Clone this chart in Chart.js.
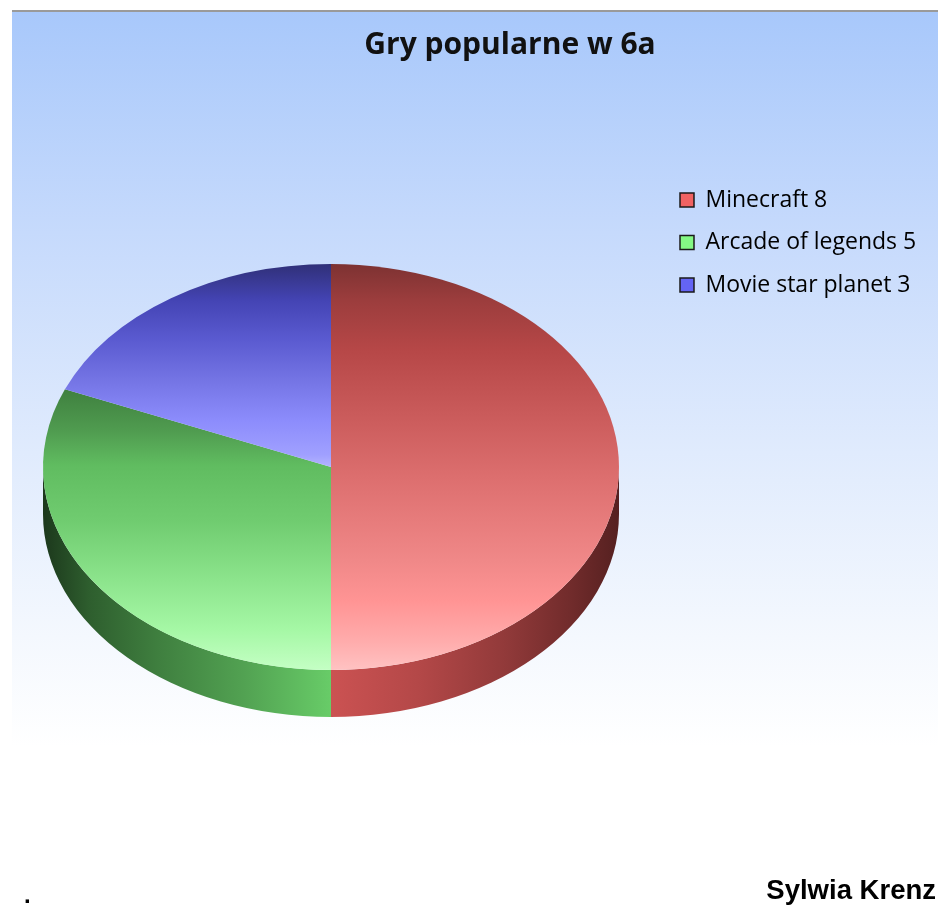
<!DOCTYPE html>
<html>
<head>
<meta charset="utf-8">
<script src="https://cdn.jsdelivr.net/npm/chart.js@4/dist/chart.umd.min.js"></script>
<style>
  body { margin: 0; background: #fff; width: 938px; height: 920px; position: relative; overflow: hidden; }
  .panel {
    position: absolute; left: 12px; top: 10px; width: 926px; height: 735px;
    border-top: 2px solid #9a9a9a;
    background: linear-gradient(to bottom, #a8c8fb 0%, #c6dafc 30%, #e0ebfd 60%, #f4f8fe 85%, #ffffff 100%);
  }
  #chart { position: absolute; left: 0; top: 0; }
  .dot { position: absolute; left: 24px; top: 883px; font: bold 24px 'Liberation Sans', Arial, sans-serif; line-height: 24px; color: #000; }
  .sig { position: absolute; right: 2px; top: 876px; font: bold 27.5px 'Liberation Sans', Arial, sans-serif; line-height: 28px; color: #000; }
</style>
</head>
<body>
<div class="panel"></div>
<canvas id="chart" width="938" height="920"></canvas>
<div class="dot">.</div>
<div class="sig">Sylwia Krenz</div>
<script>
// data
const games = ['Minecraft', 'Arcade of legends', 'Movie star planet'];
const votes = [8, 5, 3];
const chartTitle = 'Gry popularne w 6a';

// look
const RADIUS = 288;
const SQUASH = 203 / 288;
const DEPTH = 47;
const TITLE_SHIFT = 48;
const legendFill = ['#f06262', '#84f884', '#6464f4'];
const topStops = [
  [[0, '#7d3232'], [0.09, '#9c3d3d'], [0.21, '#b64747'], [0.38, '#cb5c5c'], [0.53, '#dd6f6f'], [0.73, '#f08888'], [0.83, '#ff9494'], [0.93, '#ffacac'], [1, '#ffc2c2']],
  [[0, '#3f803f'], [0.15, '#509c50'], [0.27, '#60bc60'], [0.47, '#70cc70'], [0.68, '#8ce48c'], [0.86, '#a6f8a6'], [1, '#c4ffc4']],
  [[0, '#303078'], [0.18, '#4444b4'], [0.37, '#5a5ad0'], [0.57, '#7474e4'], [0.77, '#8c8cfc'], [0.94, '#a0a0ff'], [1, '#b4b4ff']]
];
const sideStops = [
  [[0.5, '#cb5252'], [0.65, '#b44848'], [0.8, '#923a3a'], [0.92, '#702b2b'], [1, '#552020']],
  [[0, '#1c381c'], [0.08, '#2e5e2e'], [0.2, '#3f7f3f'], [0.35, '#52a252'], [0.5, '#68cc68']],
  [[0, '#303078'], [1, '#303078']]
];

// vertical extent of a slice (sector incl. centre) as fractions of radius
function sliceSpan(i) {
  const total = votes.reduce((a, b) => a + b, 0);
  const before = votes.slice(0, i).reduce((a, b) => a + b, 0);
  const s = -Math.PI / 2 + before / total * 2 * Math.PI;
  const e = s + votes[i] / total * 2 * Math.PI;
  let lo = Math.min(0, Math.sin(s), Math.sin(e));
  let hi = Math.max(0, Math.sin(s), Math.sin(e));
  for (let k = -2; k <= 2; k++) {
    const up = -Math.PI / 2 + 2 * Math.PI * k;
    const down = Math.PI / 2 + 2 * Math.PI * k;
    if (up > s && up < e) lo = -1;
    if (down > s && down < e) hi = 1;
  }
  return [lo, hi];
}

const pie3d = {
  id: 'pie3d',
  afterLayout(chart) {
    chart.titleBlock.left += TITLE_SHIFT;
    chart.titleBlock.right += TITLE_SHIFT;
  },
  beforeDatasetsDraw(chart) {
    const ctx = chart.ctx;
    const arcs = chart.getDatasetMeta(0).data;
    const cx = arcs[0].x, cy = arcs[0].y, r = arcs[0].outerRadius;
    const ry = r * SQUASH;
    ctx.save();
    arcs.forEach((arc, i) => {
      const a1 = Math.max(arc.startAngle, 0);
      const a2 = Math.min(arc.endAngle, Math.PI);
      if (a2 <= a1) return;
      const g = ctx.createLinearGradient(cx - r, 0, cx + r, 0);
      sideStops[i].forEach(([o, c]) => g.addColorStop(o, c));
      ctx.beginPath();
      ctx.ellipse(cx, cy + DEPTH, r, ry, 0, a1, a2, false);
      ctx.ellipse(cx, cy, r, ry, 0, a2, a1, true);
      ctx.closePath();
      ctx.fillStyle = g;
      ctx.fill();
    });
    ctx.translate(cx, cy);
    ctx.scale(1, SQUASH);
    ctx.translate(-cx, -cy);
  },
  afterDatasetsDraw(chart) {
    chart.ctx.restore();
  }
};

const ctx = document.getElementById('chart').getContext('2d');
new Chart(ctx, {
  type: 'pie',
  data: {
    labels: games,
    datasets: [{
      data: votes,
      borderWidth: 0,
      clip: false,
      backgroundColor: (c) => {
        const area = c.chart.chartArea;
        if (!area) return legendFill[c.dataIndex];
        const cy = (area.top + area.bottom) / 2;
        const [lo, hi] = sliceSpan(c.dataIndex);
        const g = c.chart.ctx.createLinearGradient(0, cy + lo * RADIUS, 0, cy + hi * RADIUS);
        topStops[c.dataIndex].forEach(([o, col]) => g.addColorStop(o, col));
        return g;
      }
    }]
  },
  options: {
    responsive: false,
    animation: false,
    events: [],
    radius: RADIUS,
    layout: { padding: { left: 1.5, right: 15.5, top: 0, bottom: 155 } },
    plugins: {
      title: {
        display: true,
        text: chartTitle,
        color: '#111',
        font: { family: 'Open Sans', size: 30, weight: 'bold' },
        padding: { top: 27, bottom: 106 }
      },
      legend: {
        position: 'right',
        align: 'start',
        fullSize: false,
        maxWidth: 262,
        labels: {
          boxWidth: 14,
          boxHeight: 14,
          padding: 19.5,
          color: '#222',
          font: { family: 'Open Sans', size: 23 },
          generateLabels: () => games.map((g, i) => ({
            text: g + ' ' + votes[i],
            fillStyle: legendFill[i],
            strokeStyle: '#1a1a1a',
            lineWidth: 1.5,
            hidden: false,
            index: i
          }))
        }
      },
      tooltip: { enabled: false }
    }
  },
  plugins: [pie3d]
});
</script>
</body>
</html>
